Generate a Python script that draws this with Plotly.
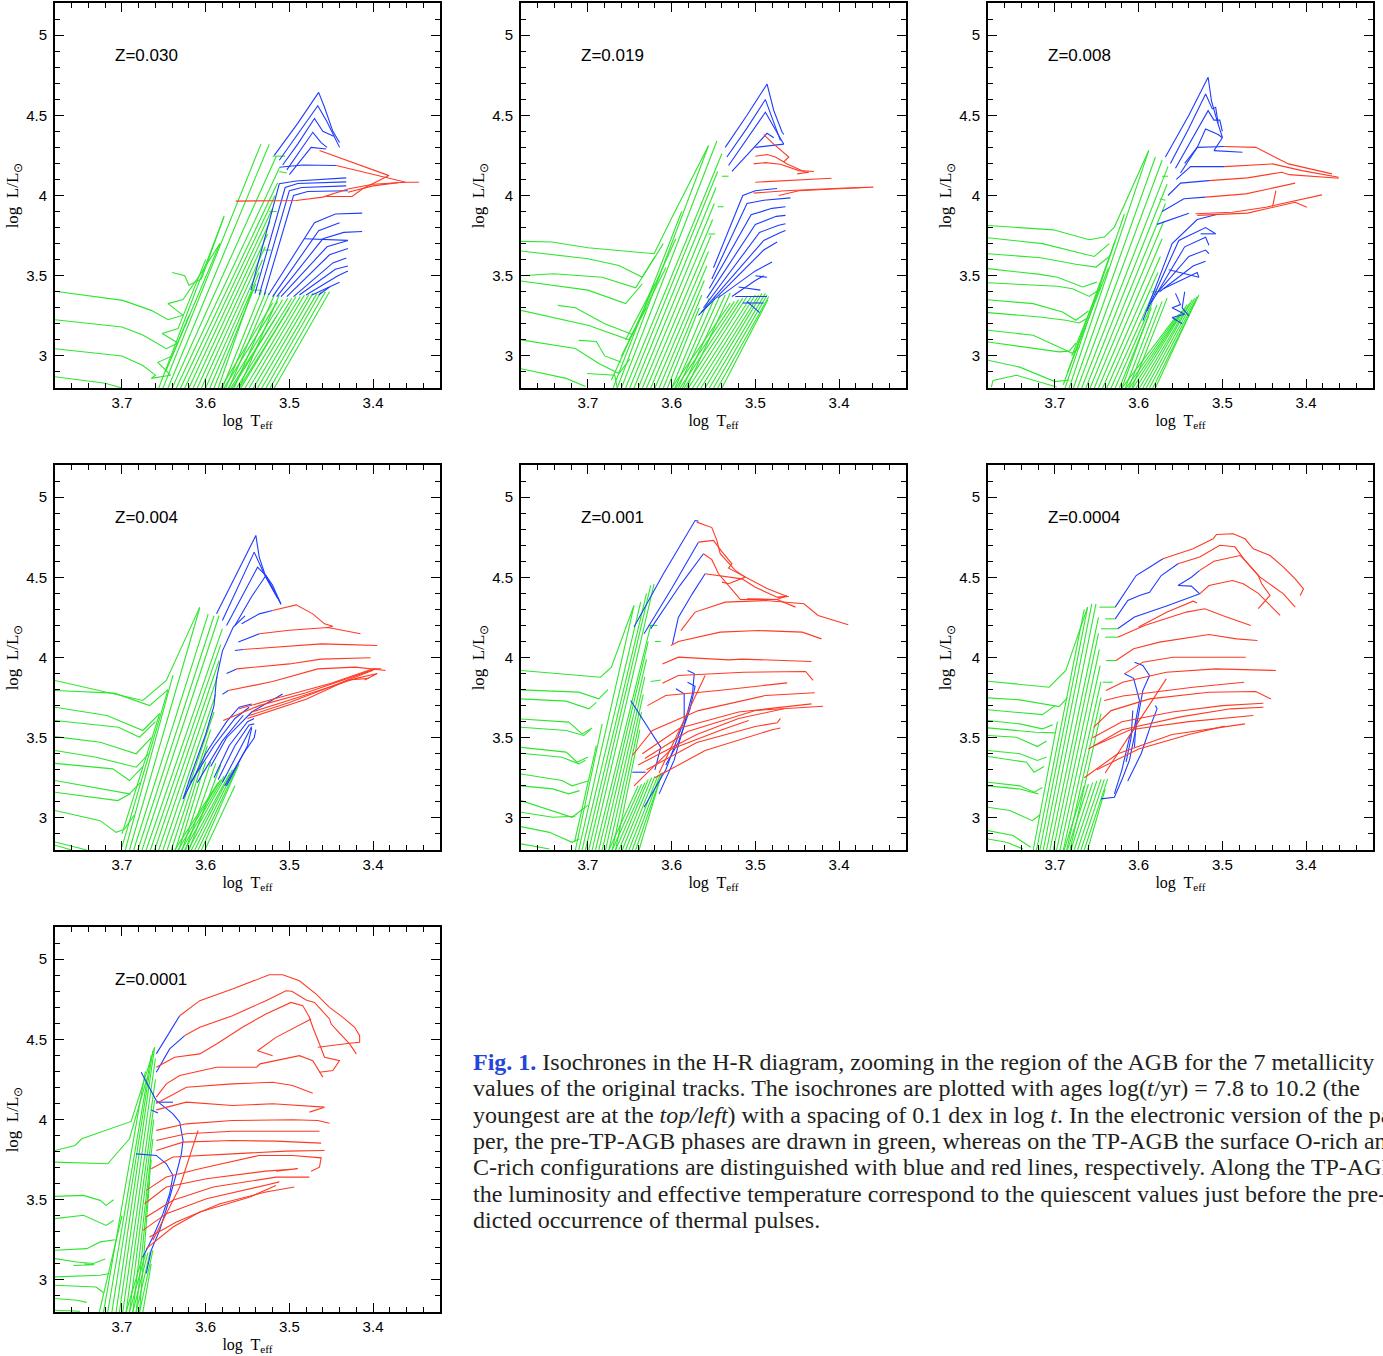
import plotly.graph_objects as go

# ---------------- data (log Teff, log L) polylines, flat [x,y,x,y,...] ----------------
Z_LABELS = ["Z=0.030", "Z=0.019", "Z=0.008", "Z=0.004", "Z=0.001", "Z=0.0004", "Z=0.0001"]
X_TICKS = [3.7, 3.6, 3.5, 3.4]
Y_TICKS = [3, 3.5, 4, 4.5, 5]
Y_TICKTEXT = ["3", "3.5", "4", "4.5", "5"]

# ---- Z=0.030 ----
P1_GREEN_LOOPS = [
    [3.78,3.403, 3.699,3.346, 3.665,3.284, 3.645,3.226, 3.627,3.253, 3.645,3.326, 3.627,3.351, 3.605,3.52, 3.583,3.70],
    [3.78,3.225, 3.70,3.18, 3.675,3.13, 3.656,3.07, 3.647,3.045, 3.633,3.08, 3.652,3.14, 3.633,3.17, 3.60,3.60],
    [3.78,3.045, 3.70,3.00, 3.675,2.94, 3.66,2.88, 3.665,2.86, 3.642,2.88, 3.657,2.96, 3.640,3.00, 3.62,3.25],
    [3.78,2.87, 3.72,2.83, 3.70,2.80],
    [3.64,3.52, 3.625,3.50, 3.62,3.44, 3.605,3.48, 3.578,3.87],
]
P1_GREEN_AGB = [
    [3.651,2.80,3.534,4.32], [3.645,2.80,3.524,4.32], [3.640,2.80,3.516,4.24], [3.635,2.80,3.512,4.17],
    [3.630,2.80,3.514,4.08], [3.625,2.80,3.517,4.00], [3.620,2.80,3.520,3.92], [3.615,2.80,3.523,3.84],
    [3.610,2.80,3.526,3.76], [3.605,2.80,3.529,3.68], [3.600,2.80,3.532,3.60], [3.595,2.80,3.536,3.52],
    [3.590,2.80,3.540,3.45], [3.585,2.80,3.545,3.40], [3.656,2.80,3.578,3.87], [3.648,2.90,3.583,3.70],
    [3.580,2.80,3.533,3.41], [3.576,2.80,3.528,3.40], [3.572,2.80,3.524,3.39], [3.566,2.80,3.518,3.38],
    [3.560,2.80,3.512,3.38],
    [3.52,4.245,3.505,4.245], [3.512,4.15,3.503,4.14], [3.524,3.90,3.515,3.90], [3.53,3.66,3.522,3.66],
    [3.545,3.41,3.535,3.41],
]
P1_GREEN_RGB = [
    [3.582,2.80,3.520,3.33], [3.578,2.80,3.514,3.34], [3.573,2.80,3.508,3.35], [3.568,2.80,3.502,3.36],
    [3.563,2.80,3.497,3.36], [3.558,2.80,3.492,3.37], [3.553,2.80,3.487,3.37], [3.548,2.80,3.482,3.38],
    [3.543,2.80,3.477,3.38], [3.538,2.80,3.472,3.39], [3.533,2.80,3.467,3.39], [3.528,2.80,3.462,3.40],
    [3.523,2.80,3.457,3.40], [3.518,2.80,3.452,3.40], [3.570,2.80,3.515,3.25], [3.560,2.80,3.50,3.30],
]
P1_BLUE = [
    [3.518,4.25, 3.49,4.45, 3.465,4.643, 3.458,4.55, 3.448,4.40, 3.44,4.33],
    [3.512,4.22, 3.49,4.38, 3.466,4.56, 3.455,4.46, 3.44,4.30],
    [3.508,4.19, 3.49,4.32, 3.47,4.48, 3.46,4.40, 3.447,4.37],
    [3.503,4.16, 3.49,4.26, 3.472,4.394, 3.462,4.33, 3.455,4.30],
    [3.50,4.13, 3.474,4.30, 3.456,4.29],
    [3.512,4.176, 3.484,4.19, 3.444,4.187],
    [3.546,3.41, 3.512,4.073, 3.492,4.09, 3.432,4.11],
    [3.541,3.39, 3.505,4.05, 3.49,4.075, 3.432,4.085],
    [3.536,3.38, 3.50,4.03, 3.485,4.05, 3.432,4.06],
    [3.53,3.38, 3.495,4.0, 3.478,4.025, 3.43,4.03],
    [3.525,3.38, 3.47,3.83, 3.445,3.885, 3.413,3.89],
    [3.52,3.37, 3.465,3.78, 3.44,3.83],
    [3.515,3.37, 3.46,3.73, 3.435,3.77, 3.413,3.776],
    [3.51,3.37, 3.455,3.68, 3.43,3.72],
    [3.503,3.37, 3.452,3.63, 3.43,3.67],
    [3.495,3.37, 3.448,3.58, 3.432,3.61],
    [3.488,3.38, 3.445,3.54, 3.43,3.56],
    [3.48,3.38, 3.442,3.50, 3.43,3.53],
    [3.473,3.38, 3.44,3.46],
    [3.465,3.38, 3.452,3.43],
    [3.482,3.73, 3.43,3.72],
]
P1_RED = [
    [3.464,4.28, 3.381,4.124, 3.413,4.04, 3.425,3.994, 3.456,3.994],
    [3.444,4.187, 3.40,4.13, 3.361,4.083, 3.345,4.083],
    [3.564,3.965, 3.492,3.969, 3.46,3.99, 3.43,4.04, 3.40,4.07, 3.361,4.083],
    [3.43,4.02, 3.40,4.06, 3.37,4.08],
]

# ---- Z=0.019 ----
P2_GREEN_LOOPS = [
    [3.78,3.714, 3.743,3.71, 3.70,3.674, 3.621,3.637, 3.60,3.86, 3.556,4.31],
    [3.78,3.654, 3.70,3.606, 3.663,3.564, 3.635,3.49, 3.61,3.70],
    [3.78,3.50, 3.741,3.512, 3.683,3.49, 3.643,3.425, 3.62,3.62],
    [3.78,3.467, 3.70,3.41, 3.655,3.326, 3.635,3.45],
    [3.78,3.284, 3.699,3.19, 3.651,3.10, 3.63,3.30],
    [3.736,3.315, 3.715,3.30, 3.68,3.20, 3.645,3.13],
    [3.78,3.10, 3.715,3.046, 3.687,2.953, 3.663,2.89, 3.65,2.98],
    [3.711,3.097, 3.69,3.09, 3.68,3.0, 3.66,2.96],
    [3.78,2.92, 3.726,2.86, 3.703,2.81],
    [3.701,2.89, 3.668,2.88, 3.665,2.80],
]
P2_GREEN_AGB = [
    [3.665,2.80,3.556,4.31], [3.660,2.80,3.546,4.34], [3.655,2.80,3.540,4.26], [3.650,2.80,3.545,4.15],
    [3.645,2.80,3.547,4.05], [3.640,2.80,3.549,3.95], [3.635,2.80,3.551,3.85], [3.630,2.80,3.553,3.75],
    [3.625,2.80,3.556,3.65], [3.620,2.80,3.558,3.56], [3.615,2.80,3.561,3.47], [3.610,2.80,3.564,3.38],
    [3.605,2.80,3.567,3.30], [3.670,2.80,3.588,3.90], [3.672,2.85,3.595,3.73], [3.66,3.0,3.607,3.55],
    [3.655,3.1,3.62,3.45],
    [3.600,2.80,3.555,3.36], [3.596,2.80,3.548,3.37], [3.592,2.80,3.542,3.38], [3.587,2.80,3.536,3.38],
    [3.582,2.80,3.530,3.39],
    [3.556,3.76,3.548,3.76], [3.545,3.93,3.538,3.93], [3.54,4.12,3.532,4.12],
]
P2_GREEN_RGB = [
    [3.600,2.80,3.530,3.33], [3.595,2.80,3.525,3.34], [3.590,2.80,3.520,3.35], [3.585,2.80,3.515,3.36],
    [3.580,2.80,3.510,3.37], [3.575,2.80,3.505,3.37], [3.570,2.80,3.500,3.38], [3.565,2.80,3.496,3.38],
    [3.560,2.80,3.492,3.39], [3.555,2.80,3.488,3.39], [3.550,2.80,3.486,3.38], [3.545,2.80,3.484,3.37],
    [3.540,2.80,3.485,3.35],
]
P2_BLUE = [
    [3.536,4.30, 3.51,4.50, 3.486,4.695, 3.478,4.53, 3.468,4.394, 3.466,4.38],
    [3.534,4.24, 3.51,4.42, 3.488,4.598, 3.47,4.342],
    [3.532,4.187, 3.51,4.35, 3.488,4.519, 3.466,4.32],
    [3.528,4.15, 3.505,4.28, 3.486,4.388, 3.478,4.36],
    [3.50,4.30, 3.466,4.32],
    [3.55,3.55, 3.515,4.00, 3.50,4.03, 3.474,4.044],
    [3.552,3.48, 3.51,3.95, 3.49,3.97, 3.458,3.985],
    [3.555,3.42, 3.505,3.88, 3.48,3.92, 3.464,3.93],
    [3.558,3.36, 3.50,3.82, 3.475,3.87, 3.464,3.876],
    [3.562,3.30, 3.495,3.77, 3.472,3.815, 3.464,3.824],
    [3.565,3.27, 3.49,3.72, 3.47,3.77, 3.464,3.782],
    [3.568,3.253, 3.49,3.66, 3.474,3.71],
    [3.545,3.36, 3.50,3.53, 3.48,3.585],
    [3.528,3.37, 3.50,3.47, 3.49,3.50],
    [3.50,3.50, 3.486,3.49], [3.52,3.43, 3.494,3.41], [3.524,3.37, 3.486,3.37],
    [3.515,3.33, 3.49,3.33], [3.51,3.34, 3.495,3.27],
]
P2_RED = [
    [3.49,4.38, 3.478,4.32, 3.46,4.24, 3.466,4.21],
    [3.50,4.245, 3.486,4.255, 3.476,4.24, 3.462,4.197, 3.44,4.145, 3.436,4.145, 3.45,4.135],
    [3.502,4.197, 3.488,4.205, 3.47,4.195, 3.448,4.155, 3.43,4.15],
    [3.50,4.083, 3.464,4.093, 3.409,4.108],
    [3.502,4.015, 3.464,4.03, 3.40,4.045, 3.359,4.052],
    [3.472,4.0, 3.448,4.03, 3.37,4.05],
]

# ---- Z=0.008 ----
P3_GREEN_LOOPS = [
    [3.78,3.813, 3.702,3.786, 3.659,3.724, 3.641,3.741, 3.629,3.803, 3.588,4.28],
    [3.78,3.737, 3.715,3.70, 3.653,3.62, 3.635,3.70],
    [3.78,3.637, 3.717,3.612, 3.675,3.571, 3.651,3.554, 3.635,3.62],
    [3.78,3.544, 3.718,3.508, 3.697,3.49, 3.667,3.43, 3.65,3.46],
    [3.78,3.456, 3.697,3.434, 3.679,3.419, 3.659,3.371, 3.645,3.42],
    [3.78,3.35, 3.726,3.326, 3.691,3.274, 3.675,3.222, 3.66,3.28],
    [3.78,3.27, 3.718,3.243, 3.687,3.222, 3.671,3.205, 3.66,3.24],
    [3.78,3.16, 3.726,3.129, 3.689,3.04, 3.679,3.015, 3.67,3.06],
    [3.78,3.087, 3.695,3.025, 3.683,3.03, 3.675,3.08],
    [3.78,2.973, 3.742,2.93, 3.70,2.84, 3.683,2.85],
    [3.776,2.805, 3.774,2.847, 3.746,2.879, 3.698,2.806],
]
P3_GREEN_AGB = [
    [3.683,2.80,3.588,4.28], [3.678,2.80,3.580,4.24], [3.673,2.80,3.572,4.22], [3.668,2.80,3.565,4.18],
    [3.663,2.80,3.566,4.07], [3.658,2.80,3.568,3.95], [3.653,2.80,3.570,3.84], [3.648,2.80,3.572,3.73],
    [3.643,2.80,3.574,3.62], [3.638,2.80,3.577,3.52], [3.633,2.80,3.580,3.42], [3.628,2.80,3.584,3.33],
    [3.623,2.80,3.588,3.25], [3.688,2.80,3.617,3.885], [3.690,2.82,3.628,3.72], [3.685,2.9,3.636,3.55],
    [3.68,3.0,3.645,3.45],
    [3.620,2.80,3.585,3.30], [3.616,2.80,3.578,3.32], [3.612,2.80,3.572,3.34], [3.608,2.80,3.566,3.36],
    [3.572,4.12,3.565,4.12], [3.575,3.98,3.568,3.97], [3.585,3.40,3.575,3.40],
]
P3_GREEN_RGB = [
    [3.620,2.80,3.556,3.24], [3.615,2.80,3.552,3.26], [3.611,2.80,3.548,3.28], [3.607,2.80,3.545,3.30],
    [3.603,2.80,3.542,3.32], [3.599,2.80,3.539,3.33], [3.595,2.80,3.536,3.35], [3.591,2.80,3.533,3.36],
    [3.587,2.80,3.530,3.37], [3.583,2.80,3.528,3.38], [3.580,2.80,3.532,3.34],
]
P3_BLUE = [
    [3.568,4.24, 3.54,4.50, 3.517,4.737, 3.513,4.59, 3.506,4.46, 3.50,4.363],
    [3.562,4.20, 3.54,4.42, 3.52,4.633, 3.512,4.54, 3.508,4.55, 3.505,4.45],
    [3.556,4.17, 3.535,4.36, 3.517,4.529, 3.51,4.47, 3.503,4.47, 3.50,4.40],
    [3.55,4.14, 3.53,4.30, 3.52,4.415, 3.505,4.38, 3.50,4.36, 3.51,4.28],
    [3.51,4.28, 3.476,4.27],
    [3.545,4.20, 3.53,4.30, 3.498,4.305],
    [3.555,4.10, 3.538,4.18, 3.498,4.18],
    [3.565,4.00, 3.55,4.077, 3.516,4.093],
    [3.572,3.90, 3.546,3.98, 3.52,3.99],
    [3.578,3.82, 3.54,3.89],
    [3.595,3.22, 3.56,3.70, 3.53,3.85, 3.508,3.88],
    [3.59,3.28, 3.552,3.72, 3.52,3.80, 3.508,3.761],
    [3.585,3.33, 3.545,3.68, 3.52,3.74, 3.516,3.69],
    [3.58,3.38, 3.54,3.62, 3.52,3.66, 3.516,3.637],
    [3.575,3.40, 3.535,3.56, 3.52,3.59],
    [3.57,3.42, 3.53,3.52, 3.528,3.49],
    [3.526,3.761, 3.508,3.761], [3.564,3.537, 3.528,3.49],
    [3.556,3.39, 3.55,3.32, 3.56,3.30, 3.545,3.26, 3.56,3.24, 3.548,3.20],
    [3.545,3.40, 3.548,3.30, 3.54,3.25],
]
P3_RED = [
    [3.498,4.305, 3.46,4.30, 3.421,4.197, 3.369,4.135],
    [3.498,4.18, 3.44,4.197, 3.405,4.155, 3.361,4.114],
    [3.516,4.093, 3.47,4.11, 3.429,4.145, 3.42,4.13, 3.361,4.108],
    [3.52,3.99, 3.472,4.01, 3.413,4.077],
    [3.532,3.886, 3.488,3.896, 3.448,3.927, 3.381,4.004],
    [3.53,3.876, 3.47,3.89, 3.413,3.958, 3.40,3.93, 3.41,3.95, 3.399,3.927],
    [3.436,4.03, 3.44,3.93],
]

# ---- Z=0.004 ----
P4_GREEN_LOOPS = [
    [3.78,3.857, 3.709,3.773, 3.675,3.732, 3.647,3.857, 3.607,4.314],
    [3.78,3.794, 3.709,3.778, 3.667,3.70, 3.645,3.80],
    [3.78,3.69, 3.718,3.638, 3.675,3.545, 3.655,3.65],
    [3.78,3.607, 3.704,3.565, 3.679,3.503, 3.66,3.60],
    [3.78,3.507, 3.726,3.472, 3.683,3.40, 3.665,3.50],
    [3.78,3.42, 3.731,3.378, 3.683,3.316, 3.668,3.40],
    [3.78,3.34, 3.711,3.306, 3.691,3.233, 3.675,3.32],
    [3.78,3.233, 3.711,3.17, 3.691,3.15, 3.678,3.22],
    [3.78,3.16, 3.731,3.129, 3.705,3.108, 3.69,3.15],
    [3.78,3.046, 3.726,2.983, 3.707,2.91, 3.697,2.93, 3.685,3.02],
    [3.78,2.85, 3.742,2.80],
    [3.78,2.83, 3.76,2.80],
]
P4_GREEN_AGB = [
    [3.691,2.80,3.607,4.31], [3.686,2.80,3.597,4.27], [3.681,2.80,3.590,4.26], [3.676,2.80,3.584,4.26],
    [3.671,2.80,3.580,4.18], [3.666,2.80,3.582,4.08], [3.661,2.80,3.584,3.98], [3.656,2.80,3.586,3.88],
    [3.651,2.80,3.588,3.77], [3.646,2.80,3.590,3.66], [3.641,2.80,3.594,3.55], [3.636,2.80,3.598,3.45],
    [3.696,2.80,3.639,3.89], [3.70,2.82,3.645,3.80], [3.70,2.9,3.655,3.65],
    [3.632,2.80,3.600,3.35], [3.628,2.80,3.594,3.35], [3.624,2.80,3.588,3.34], [3.620,2.80,3.582,3.33],
]
P4_GREEN_RGB = [
    [3.637,2.80,3.585,3.22], [3.633,2.80,3.582,3.24], [3.629,2.80,3.578,3.26], [3.625,2.80,3.575,3.27],
    [3.621,2.80,3.571,3.28], [3.617,2.80,3.568,3.30], [3.613,2.80,3.565,3.31], [3.609,2.80,3.562,3.32],
    [3.605,2.80,3.560,3.337], [3.601,2.80,3.565,3.20],
]
P4_BLUE = [
    [3.587,4.272, 3.56,4.55, 3.54,4.761, 3.536,4.626, 3.528,4.50, 3.51,4.335],
    [3.58,4.23, 3.56,4.45, 3.542,4.657, 3.53,4.52, 3.514,4.37],
    [3.575,4.20, 3.555,4.40, 3.538,4.563, 3.528,4.51, 3.512,4.355],
    [3.565,4.20, 3.545,4.38, 3.528,4.511, 3.52,4.45, 3.51,4.33],
    [3.557,4.21, 3.536,4.272, 3.52,4.293],
    [3.561,4.096, 3.536,4.148],
    [3.565,4.044, 3.555,4.05],
    [3.575,3.90, 3.563,3.929],
    [3.58,3.77, 3.573,3.794],
    [3.627,3.118, 3.618,3.26, 3.60,3.52, 3.59,3.70, 3.587,3.87, 3.58,4.04, 3.567,4.19, 3.553,4.26],
    [3.627,3.118, 3.60,3.40, 3.575,3.60, 3.56,3.69, 3.545,3.71],
    [3.618,3.22, 3.59,3.45, 3.565,3.62, 3.548,3.69],
    [3.61,3.22, 3.58,3.48, 3.555,3.64],
    [3.594,3.32, 3.575,3.50, 3.545,3.66, 3.508,3.773],
    [3.59,3.25, 3.572,3.45, 3.55,3.60, 3.542,3.62],
    [3.585,3.24, 3.565,3.45, 3.548,3.58, 3.542,3.586],
    [3.58,3.22, 3.56,3.42, 3.545,3.57],
    [3.577,3.20, 3.555,3.40, 3.542,3.50, 3.54,3.55],
    [3.575,3.20, 3.55,3.45, 3.545,3.56],
]
P4_RED = [
    [3.52,4.293, 3.492,4.328, 3.472,4.272, 3.458,4.21, 3.448,4.195, 3.454,4.187],
    [3.536,4.148, 3.50,4.17, 3.454,4.187, 3.415,4.148],
    [3.555,4.05, 3.462,4.085, 3.43,4.08, 3.395,4.075],
    [3.563,3.929, 3.50,3.96, 3.462,3.99, 3.403,3.998],
    [3.573,3.794, 3.52,3.85, 3.466,3.929, 3.421,3.94, 3.385,3.919],
    [3.579,3.607, 3.536,3.70, 3.48,3.78, 3.448,3.836, 3.397,3.929],
    [3.56,3.68, 3.52,3.74, 3.45,3.84, 3.40,3.93, 3.39,3.93],
    [3.548,3.638, 3.50,3.72, 3.44,3.84, 3.40,3.92],
    [3.545,3.66, 3.49,3.75, 3.42,3.87, 3.395,3.90, 3.41,3.86],
    [3.55,3.62, 3.48,3.74, 3.43,3.86, 3.405,3.87],
]

# ---- Z=0.001 ----
P5_GREEN_LOOPS = [
    [3.78,3.919, 3.685,3.877, 3.672,3.94, 3.645,4.324],
    [3.78,3.798, 3.711,3.784, 3.687,3.742, 3.676,3.80],
    [3.78,3.742, 3.726,3.728, 3.699,3.68, 3.69,3.72],
    [3.78,3.617, 3.723,3.597, 3.707,3.524, 3.695,3.56],
    [3.78,3.565, 3.726,3.545, 3.705,3.514, 3.697,3.55],
    [3.78,3.44, 3.726,3.41, 3.713,3.347, 3.70,3.38],
    [3.78,3.403, 3.731,3.378, 3.711,3.337, 3.703,3.36],
    [3.78,3.274, 3.731,3.233, 3.719,3.20, 3.70,3.23],
    [3.78,3.20, 3.742,3.181, 3.723,3.15, 3.71,3.17],
    [3.78,3.108, 3.731,3.025, 3.719,3.004, 3.70,3.08],
    [3.78,3.035, 3.742,3.004, 3.715,3.01],
    [3.78,2.946, 3.746,2.91, 3.719,2.848, 3.71,2.87],
    [3.78,2.838, 3.746,2.806],
]
P5_GREEN_AGB = [
    [3.711,2.80,3.645,4.324], [3.707,2.80,3.637,4.345], [3.703,2.80,3.630,4.40], [3.699,2.80,3.625,4.449],
    [3.695,2.80,3.621,4.459], [3.691,2.80,3.625,4.20], [3.687,2.80,3.628,4.10], [3.683,2.80,3.630,3.99],
    [3.679,2.80,3.632,3.88], [3.675,2.80,3.634,3.77], [3.671,2.80,3.636,3.66], [3.667,2.80,3.638,3.55],
    [3.715,2.80,3.683,3.586], [3.716,2.85,3.69,3.45],
    [3.628,4.20,3.617,4.20], [3.62,4.10,3.613,4.10], [3.625,3.85,3.613,3.86],
]
P5_GREEN_RGB = [
    [3.675,2.80,3.640,3.20], [3.671,2.80,3.636,3.21], [3.667,2.80,3.632,3.22], [3.663,2.80,3.628,3.24],
    [3.659,2.80,3.624,3.25], [3.655,2.80,3.620,3.26], [3.651,2.80,3.616,3.27], [3.647,2.80,3.613,3.28],
    [3.643,2.80,3.611,3.285], [3.639,2.80,3.615,3.22],
]
P5_BLUE = [
    [3.645,4.19, 3.61,4.52, 3.572,4.854, 3.568,4.85],
    [3.633,4.148, 3.60,4.43, 3.568,4.719],
    [3.625,4.18, 3.59,4.45, 3.562,4.647],
    [3.599,4.085, 3.592,4.25, 3.575,4.40, 3.56,4.522],
    [3.649,3.732, 3.613,3.44, 3.62,3.30],
    [3.581,3.919, 3.573,3.90, 3.575,3.78, 3.585,3.58, 3.597,3.36, 3.615,3.15],
    [3.595,3.805, 3.585,3.774, 3.585,3.61, 3.607,3.30, 3.633,3.067],
    [3.581,3.846, 3.572,3.82, 3.578,3.68, 3.592,3.47, 3.607,3.33],
    [3.647,3.285, 3.631,3.285],
]
P5_RED = [
    [3.57,4.844, 3.552,4.81, 3.546,4.73, 3.542,4.647, 3.524,4.543, 3.512,4.501, 3.532,4.46, 3.54,4.47],
    [3.568,4.719, 3.55,4.73, 3.54,4.66, 3.528,4.584, 3.532,4.557, 3.516,4.513, 3.486,4.43, 3.462,4.38, 3.474,4.376],
    [3.562,4.647, 3.552,4.61, 3.544,4.522, 3.518,4.362, 3.474,4.362, 3.462,4.385],
    [3.56,4.522, 3.544,4.511, 3.516,4.49, 3.50,4.438, 3.474,4.376, 3.46,4.38],
    [3.51,4.366, 3.474,4.362, 3.452,4.314],
    [3.589,4.168, 3.572,4.283, 3.536,4.345, 3.488,4.355, 3.442,4.335, 3.425,4.262, 3.389,4.204],
    [3.601,4.075, 3.592,4.10, 3.542,4.158, 3.496,4.168, 3.444,4.158, 3.421,4.116],
    [3.611,3.96, 3.592,4.002, 3.532,3.985, 3.516,3.99, 3.433,3.975],
    [3.611,3.84, 3.592,3.888, 3.514,3.908, 3.44,3.913, 3.431,3.857],
    [3.629,3.70, 3.607,3.763, 3.544,3.794, 3.462,3.842],
    [3.647,3.389, 3.623,3.545, 3.568,3.669, 3.488,3.763, 3.429,3.78],
    [3.635,3.40, 3.59,3.56, 3.52,3.66, 3.433,3.711],
    [3.632,3.37, 3.58,3.54, 3.50,3.67, 3.419,3.696],
    [3.64,3.33, 3.57,3.52, 3.52,3.62, 3.466,3.68],
    [3.645,3.20, 3.60,3.43, 3.54,3.55, 3.508,3.607],
    [3.63,3.30, 3.57,3.47, 3.50,3.57, 3.474,3.593, 3.47,3.62],
    [3.62,3.25, 3.56,3.42, 3.48,3.55, 3.47,3.56],
    [3.615,3.28, 3.56,3.888],
]

# ---- Z=0.0004 ----
P6_GREEN_LOOPS = [
    [3.78,3.852, 3.707,3.815, 3.687,3.919, 3.661,4.314],
    [3.78,3.748, 3.742,3.736, 3.695,3.694, 3.685,3.75],
    [3.78,3.674, 3.715,3.644, 3.70,3.70],
    [3.78,3.607, 3.742,3.586, 3.715,3.555, 3.703,3.58],
    [3.78,3.561, 3.723,3.534, 3.70,3.53],
    [3.78,3.514, 3.746,3.503, 3.721,3.445, 3.71,3.48],
    [3.78,3.42, 3.742,3.40, 3.721,3.358, 3.71,3.38],
    [3.78,3.383, 3.734,3.347, 3.725,3.285, 3.713,3.32],
    [3.78,3.222, 3.742,3.20, 3.725,3.16, 3.715,3.19],
    [3.78,3.20, 3.742,3.18, 3.72,3.15],
    [3.78,3.067, 3.754,3.046, 3.727,2.983, 3.718,3.02],
    [3.78,2.921, 3.75,2.89, 3.729,2.817],
    [3.78,2.869, 3.758,2.848, 3.738,2.806],
]
P6_GREEN_AGB = [
    [3.722,2.80,3.665,4.30], [3.718,2.80,3.661,4.314], [3.714,2.80,3.656,4.334], [3.710,2.80,3.651,4.334],
    [3.706,2.80,3.648,4.25], [3.702,2.80,3.648,4.15], [3.698,2.80,3.647,4.05], [3.694,2.80,3.646,3.95],
    [3.690,2.80,3.645,3.85], [3.686,2.80,3.645,3.75], [3.682,2.80,3.645,3.65], [3.726,2.80,3.697,3.60],
    [3.647,4.314,3.628,4.314], [3.64,4.241,3.628,4.241], [3.645,4.179,3.625,4.179], [3.64,4.127,3.625,4.127],
    [3.639,3.981,3.627,3.981], [3.643,3.846,3.631,3.846],
]
P6_GREEN_RGB = [
    [3.689,2.80,3.665,3.20], [3.685,2.80,3.660,3.21], [3.681,2.80,3.655,3.22], [3.677,2.80,3.650,3.23],
    [3.673,2.80,3.645,3.24], [3.669,2.80,3.641,3.24], [3.665,2.80,3.637,3.243], [3.661,2.80,3.640,3.18],
]
P6_BLUE = [
    [3.628,4.314, 3.617,4.397, 3.603,4.511, 3.587,4.563, 3.571,4.615],
    [3.628,4.241, 3.613,4.355, 3.599,4.386, 3.587,4.407, 3.573,4.511, 3.553,4.584],
    [3.625,4.179, 3.605,4.252, 3.565,4.324, 3.537,4.38, 3.527,4.397],
    [3.553,4.449, 3.537,4.445, 3.527,4.397],
    [3.527,4.543, 3.537,4.50, 3.553,4.449],
    [3.605,3.971, 3.595,3.95, 3.587,3.888, 3.595,3.794, 3.603,3.565, 3.611,3.36, 3.619,3.25, 3.629,3.129, 3.645,3.119],
    [3.617,3.898, 3.606,3.87, 3.599,3.732, 3.605,3.565, 3.611,3.50, 3.62,3.30, 3.629,3.15],
    [3.58,3.70, 3.578,3.68, 3.585,3.586, 3.597,3.40, 3.613,3.23],
    [3.607,3.67, 3.609,3.50, 3.615,3.35],
    [3.603,3.61, 3.605,3.44],
]
P6_RED = [
    [3.571,4.615, 3.535,4.678, 3.511,4.74, 3.507,4.767, 3.487,4.771, 3.473,4.74, 3.463,4.678, 3.443,4.636, 3.427,4.563, 3.413,4.49, 3.403,4.428, 3.407,4.387],
    [3.553,4.584, 3.527,4.626, 3.503,4.70, 3.485,4.69, 3.473,4.605, 3.455,4.501, 3.427,4.397, 3.413,4.314],
    [3.527,4.543, 3.51,4.60, 3.479,4.636, 3.473,4.605, 3.457,4.511, 3.453,4.46, 3.443,4.387, 3.457,4.304],
    [3.527,4.397, 3.516,4.449, 3.488,4.48, 3.475,4.46, 3.457,4.40, 3.431,4.262],
    [3.60,4.19, 3.566,4.283, 3.535,4.351, 3.53,4.34],
    [3.625,4.127, 3.593,4.20, 3.543,4.283, 3.521,4.304, 3.50,4.262, 3.466,4.20],
    [3.627,3.981, 3.606,4.054, 3.575,4.096, 3.516,4.143, 3.483,4.116, 3.458,4.106],
    [3.617,3.898, 3.595,3.971, 3.559,4.002, 3.472,4.002],
    [3.639,3.794, 3.619,3.846, 3.567,3.908, 3.508,3.929, 3.436,3.919],
    [3.641,3.732, 3.619,3.76, 3.535,3.815, 3.474,3.846],
    [3.654,3.565, 3.633,3.669, 3.587,3.742, 3.516,3.783, 3.46,3.788, 3.442,3.742],
    [3.655,3.50, 3.62,3.60, 3.56,3.66, 3.50,3.70, 3.451,3.715],
    [3.66,3.43, 3.62,3.55, 3.55,3.63, 3.49,3.68, 3.451,3.69],
    [3.653,3.45, 3.61,3.55, 3.54,3.60, 3.463,3.638],
    [3.665,3.25, 3.625,3.40, 3.56,3.52, 3.473,3.586],
    [3.65,3.30, 3.60,3.43, 3.54,3.52, 3.497,3.572],
    [3.64,3.28, 3.567,3.867],
]

# ---- Z=0.0001 ----
P7_GREEN_LOOPS = [
    [3.78,3.807, 3.756,3.838, 3.748,3.88, 3.731,3.911, 3.689,3.988, 3.661,4.45],
    [3.78,3.734, 3.717,3.724, 3.691,3.88, 3.67,4.26],
    [3.78,3.521, 3.746,3.527, 3.726,3.496, 3.719,3.465, 3.71,3.50],
    [3.78,3.382, 3.746,3.403, 3.719,3.34, 3.71,3.37],
    [3.78,3.185, 3.742,3.195, 3.726,3.237, 3.708,3.25],
    [3.78,3.133, 3.754,3.112, 3.734,3.102, 3.72,3.13],
    [3.758,3.09, 3.733,3.095, 3.745,3.10],
    [3.78,3.019, 3.726,3.029, 3.715,3.04],
    [3.78,2.967, 3.731,2.956, 3.722,2.92],
    [3.78,2.884, 3.754,2.873, 3.742,2.86],
    [3.78,2.811, 3.75,2.805],
]
P7_GREEN_AGB = [
    [3.722,2.80,3.672,4.30], [3.717,2.80,3.665,4.40], [3.712,2.80,3.663,4.43], [3.707,2.80,3.661,4.45],
    [3.703,2.80,3.660,4.38], [3.699,2.80,3.660,4.25], [3.695,2.80,3.661,4.12], [3.691,2.80,3.662,4.00],
    [3.687,2.80,3.663,3.88], [3.683,2.80,3.665,3.75], [3.679,2.80,3.667,3.62], [3.727,2.80,3.70,3.40],
]
P7_GREEN_RGB = [
    [3.695,2.80,3.675,3.15], [3.691,2.80,3.672,3.16], [3.687,2.80,3.669,3.17], [3.683,2.80,3.666,3.18],
    [3.679,2.80,3.663,3.185], [3.675,2.80,3.665,3.10],
]
P7_BLUE = [
    [3.659,4.409, 3.647,4.512, 3.631,4.647],
    [3.659,4.295, 3.643,4.44, 3.625,4.523],
    [3.677,4.295, 3.669,4.212, 3.659,4.118, 3.649,4.077, 3.639,4.035, 3.631,3.983, 3.629,3.932, 3.627,3.869, 3.629,3.786, 3.635,3.662, 3.645,3.475, 3.655,3.309, 3.665,3.185, 3.671,3.04],
    [3.683,3.786, 3.659,3.776, 3.647,3.724, 3.639,3.651, 3.643,3.537, 3.651,3.413, 3.663,3.268, 3.675,3.143],
    [3.659,4.108, 3.639,4.108],
    [3.665,4.06, 3.657,4.04],
]
P7_RED = [
    [3.631,4.647, 3.607,4.741, 3.568,4.813, 3.524,4.902, 3.508,4.902, 3.488,4.865, 3.468,4.782, 3.452,4.699, 3.436,4.637, 3.422,4.575, 3.416,4.523, 3.416,4.481, 3.428,4.475, 3.466,4.45],
    [3.625,4.523, 3.607,4.575, 3.568,4.647, 3.528,4.741, 3.504,4.803, 3.497,4.80, 3.48,4.745, 3.47,4.73, 3.452,4.627, 3.45,4.595, 3.442,4.55, 3.428,4.471, 3.42,4.409],
    [3.659,4.326, 3.637,4.388, 3.607,4.409, 3.587,4.471, 3.556,4.575, 3.528,4.658, 3.498,4.73, 3.484,4.71, 3.476,4.637, 3.472,4.575, 3.464,4.471, 3.458,4.388, 3.44,4.367, 3.448,4.305, 3.464,4.295],
    [3.52,4.398, 3.538,4.429, 3.516,4.512, 3.474,4.627],
    [3.659,4.139, 3.647,4.222, 3.631,4.274, 3.587,4.326, 3.539,4.326, 3.535,4.347, 3.488,4.398, 3.472,4.367, 3.46,4.264],
    [3.659,4.10, 3.623,4.201, 3.568,4.222, 3.52,4.232, 3.496,4.212, 3.472,4.164],
    [3.659,4.06, 3.623,4.108, 3.568,4.087, 3.52,4.098, 3.458,4.077, 3.476,4.046],
    [3.659,3.932, 3.623,3.973, 3.568,3.994, 3.496,3.998, 3.466,3.994, 3.452,3.977],
    [3.659,3.869, 3.623,3.911, 3.568,3.927, 3.464,3.927],
    [3.659,3.807, 3.627,3.859, 3.568,3.869, 3.516,3.865, 3.462,3.853],
    [3.665,3.693, 3.639,3.766, 3.568,3.786, 3.504,3.803, 3.458,3.807],
    [3.671,3.558, 3.647,3.641, 3.607,3.693, 3.536,3.776, 3.496,3.776, 3.462,3.761, 3.464,3.703, 3.474,3.678],
    [3.673,3.475, 3.647,3.579, 3.599,3.631, 3.528,3.678, 3.49,3.693, 3.516,3.678],
    [3.671,3.392, 3.639,3.496, 3.591,3.579, 3.516,3.641, 3.476,3.641],
    [3.675,3.309, 3.647,3.413, 3.599,3.506, 3.543,3.575, 3.512,3.61, 3.522,3.60],
    [3.667,3.268, 3.635,3.361, 3.583,3.475, 3.528,3.548, 3.494,3.579],
    [3.671,3.195, 3.639,3.33, 3.607,3.423, 3.547,3.517, 3.516,3.589],
    [3.663,3.247, 3.631,3.579, 3.609,3.932],
]

PANELS = [
    (P1_GREEN_LOOPS, P1_GREEN_AGB, P1_GREEN_RGB, P1_BLUE, P1_RED),
    (P2_GREEN_LOOPS, P2_GREEN_AGB, P2_GREEN_RGB, P2_BLUE, P2_RED),
    (P3_GREEN_LOOPS, P3_GREEN_AGB, P3_GREEN_RGB, P3_BLUE, P3_RED),
    (P4_GREEN_LOOPS, P4_GREEN_AGB, P4_GREEN_RGB, P4_BLUE, P4_RED),
    (P5_GREEN_LOOPS, P5_GREEN_AGB, P5_GREEN_RGB, P5_BLUE, P5_RED),
    (P6_GREEN_LOOPS, P6_GREEN_AGB, P6_GREEN_RGB, P6_BLUE, P6_RED),
    (P7_GREEN_LOOPS, P7_GREEN_AGB, P7_GREEN_RGB, P7_BLUE, P7_RED),
]

CAPTION_LINES = [
    "<b><span style='color:#2346d8'>Fig. 1.</span></b> Isochrones in the H-R diagram, zooming in the region of the AGB for the 7 metallicity",
    "values of the original tracks. The isochrones are plotted with ages log(<i>t</i>/yr) = 7.8 to 10.2 (the",
    "youngest are at the <i>top/left</i>) with a spacing of 0.1 dex in log <i>t</i>. In the electronic version of the pa-",
    "per, the pre-TP-AGB phases are drawn in green, whereas on the TP-AGB the surface O-rich and",
    "C-rich configurations are distinguished with blue and red lines, respectively. Along the TP-AGB",
    "the luminosity and effective temperature correspond to the quiescent values just before the pre-",
    "dicted occurrence of thermal pulses.",
]

# ---------------- figure ----------------
W, H = 1383, 1356
COL_PX = [(55, 440), (521, 906), (988, 1373)]
ROW_PX = [(3, 388), (465, 850), (927, 1312)]
CAP_Y = [1062, 1088, 1115, 1141, 1167, 1194, 1220]
GREEN, BLUE, RED = "#2ee62e", "#1f3cff", "#ff3a24"

fig = go.Figure()


def flat(lines):
    xs, ys = [], []
    for ln in lines:
        xs += list(ln[0::2]) + [None]
        ys += list(ln[1::2]) + [None]
    return xs, ys


layout = dict(
    width=W, height=H, margin=dict(l=0, r=0, t=0, b=0),
    paper_bgcolor="white", plot_bgcolor="white", showlegend=False,
    font=dict(family="Liberation Sans", color="black"),
)
annotations = []
for i, (gl, ga, gr, bl, rd) in enumerate(PANELS):
    r, c = divmod(i, 3)
    n = "" if i == 0 else str(i + 1)
    xa, ya = "x" + n, "y" + n
    for lines, col in ((gl + ga + gr, GREEN), (bl, BLUE), (rd, RED)):
        xs, ys = flat(lines)
        fig.add_trace(go.Scatter(x=xs, y=ys, mode="lines", line=dict(color=col, width=1.1),
                                 xaxis=xa, yaxis=ya, hoverinfo="skip", showlegend=False))
    x0, x1 = COL_PX[c]
    y0, y1 = ROW_PX[r]
    axcommon = dict(showgrid=False, zeroline=False, showline=True, linecolor="black", linewidth=1.8,
                    mirror="allticks", ticks="inside", tickcolor="black", tickwidth=1.2, ticklen=9,
                    tickfont=dict(family="Liberation Sans", size=15, color="black"))
    layout["xaxis" + n] = dict(axcommon, domain=[x0 / W, x1 / W], range=[3.78, 3.32], anchor=ya,
                               tickvals=X_TICKS, ticktext=[f"{v:.1f}" for v in X_TICKS],
                               minor=dict(ticks="inside", dtick=0.02, tick0=3.4, ticklen=5, tickcolor="black", tickwidth=1),
                               title=dict(text="log  T<sub>eff</sub>", standoff=5,
                                          font=dict(family="Liberation Serif", size=16, color="black")))
    layout["yaxis" + n] = dict(axcommon, domain=[1 - y1 / H, 1 - y0 / H], range=[2.8, 5.2], anchor=xa,
                               tickvals=Y_TICKS, ticktext=Y_TICKTEXT, ticklabelstandoff=3,
                               minor=dict(ticks="inside", dtick=0.1, tick0=3, ticklen=5, tickcolor="black", tickwidth=1),
                               title=dict(text="log  L/L<sub>⊙</sub>", standoff=3,
                                          font=dict(family="Liberation Serif", size=17, color="black")))
    annotations.append(dict(text=Z_LABELS[i], x=3.711, y=4.87, xref=xa, yref=ya, xanchor="left",
                            yanchor="middle", showarrow=False,
                            font=dict(family="Liberation Sans", size=17, color="black")))

for line, yc in zip(CAPTION_LINES, CAP_Y):
    annotations.append(dict(text=line, x=471 / W, y=1 - yc / H, xref="paper", yref="paper",
                            xanchor="left", yanchor="middle", align="left", showarrow=False,
                            font=dict(family="Liberation Serif", size=24, color="#231f20")))
layout["annotations"] = annotations
fig.update_layout(**layout)
fig.write_html("out.html", config={"displayModeBar": False},
               post_script="document.body.style.margin='0px';document.body.style.overflow='hidden';")
